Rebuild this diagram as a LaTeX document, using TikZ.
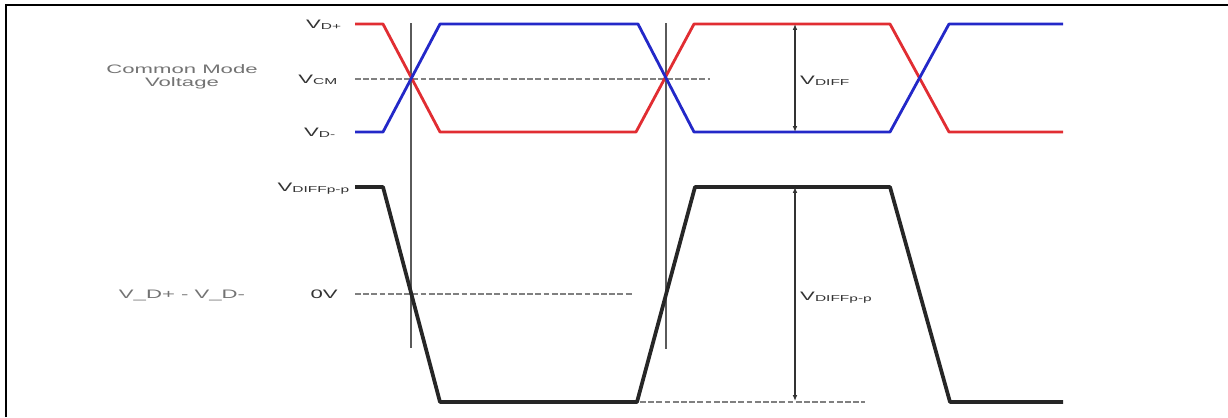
\documentclass[tikz,border=0pt]{standalone}
\usepackage{fontspec}
\setmainfont{Liberation Sans}
\newfontfamily\widefont[FakeStretch=1.8]{Liberation Sans}
\usetikzlibrary{arrows.meta}
\definecolor{dpred}{RGB}{225,45,50}
\definecolor{dmblue}{RGB}{35,40,200}
\definecolor{lblgray}{RGB}{115,115,115}
\definecolor{guidegray}{RGB}{90,90,90}

\begin{document}
\begin{tikzpicture}[x=0.03cm, y=-0.03cm,
    level/.style={font=\widefont\fontsize{10.5}{12}\selectfont, text=black!80, inner sep=0pt},
    side/.style={font=\widefont\fontsize{10.5}{11.5}\selectfont, text=lblgray, inner sep=0pt, align=center},
    dplus/.style={draw=dpred, line width=2.4pt, line join=round},
    dminus/.style={draw=dmblue, line width=2.4pt, line join=round},
    diffline/.style={draw=black!85, line width=3.2pt, line join=round},
    guide/.style={draw=guidegray, line width=1.3pt},
    refline/.style={draw=gray, line width=0.9pt, dash pattern=on 5pt off 2pt},
    span/.style={draw=black!80, line width=1.1pt, {Latex[length=5pt,width=4pt]}-{Latex[length=5pt,width=4pt]}}
]
    \useasboundingbox (0,0) rectangle (1228,417);

    % frame, only top and left edges show
    \draw[line width=2.5pt] (6,417) -- (6,5) -- (1228,5);

    % reference points
    \coordinate (cm start) at (355,79);
    \coordinate (cm end) at (710,79);
    \coordinate (zero start) at (355,294);
    \coordinate (zero end) at (632,294);
    \coordinate (low start) at (640,402);
    \coordinate (low end) at (865,402);
    \coordinate (diff top) at (795,24);
    \coordinate (diff bot) at (795,132);
    \coordinate (pp top) at (795,187);
    \coordinate (pp bot) at (795,401);
    \coordinate (cross1 top) at (411,23);
    \coordinate (cross1 bot) at (411,348);
    \coordinate (cross2 top) at (666,23);
    \coordinate (cross2 bot) at (666,349);

    % dashed reference levels
    \draw[refline] (cm start) -- (cm end);
    \draw[refline] (zero start) -- (zero end);
    \draw[refline] (low start) -- (low end);

    % crossing markers
    \draw[guide] (cross1 top) -- (cross1 bot);
    \draw[guide] (cross2 top) -- (cross2 bot);

    % D+ and D- signals
    \draw[dplus] (355,24) -- (383,24) -- (440,132) -- (636,132) -- (694,24)
        -- (890,24) -- (949,132) -- (1063,132);
    \draw[dminus] (355,132) -- (383,132) -- (440,24) -- (638,24) -- (694,132)
        -- (890,132) -- (949,24) -- (1063,24);

    % differential signal
    \draw[diffline] (355,187) -- (383,187) -- (440,402) -- (637,402) -- (695,187)
        -- (890,187) -- (950,402) -- (1063,402);

    % amplitude spans
    \draw[span] (diff top) -- (diff bot);
    \draw[span] (pp top) -- (pp bot);

    % level labels
    \node[level, anchor=base east] (lvdp) at (342,28) {V\textsubscript{D+}};
    \node[level, anchor=base east] (lvcm) at (338,83) {V\textsubscript{CM}};
    \node[level, anchor=base east] (lvdm) at (336,136) {V\textsubscript{D-}};
    \node[level, anchor=base east] (lvpp) at (350,191) {V\textsubscript{DIFFp-p}};
    \node[level, anchor=base east] (lzero) at (338,298) {0V};
    \node[level, anchor=base west] (ldiff) at (800,84) {V\textsubscript{DIFF}};
    \node[level, anchor=base west] (lpp) at (800,300) {V\textsubscript{DIFFp-p}};

    % side captions
    \node[side] (lcm) at (182,77) {Common Mode\\Voltage};
    \node[side, anchor=base] (ldd) at (182,298) {V\_D+ - V\_D-};
\end{tikzpicture}
\end{document}
